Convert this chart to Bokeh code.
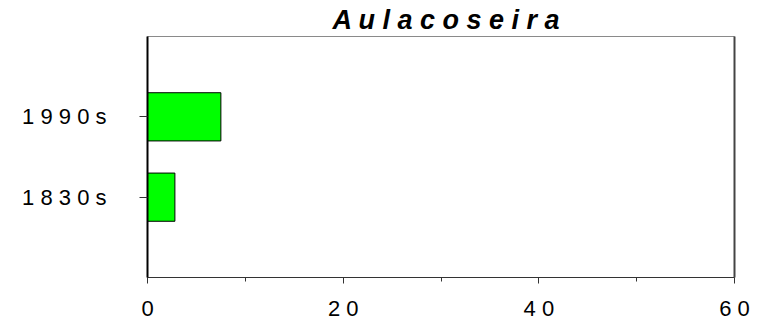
from bokeh.plotting import figure
from bokeh.models import FactorRange, Range1d, FixedTicker, LinearAxis, Title
from bokeh.embed import file_html
from bokeh.resources import INLINE

# Data
decades = ["1830s", "1990s"]
decade_labels = ["1 8 3 0 s", "1 9 9 0 s"]
abundance = [2.8, 7.5]
x_ticks = [0, 20, 40, 60]
x_minor = [10, 30, 50]
x_tick_labels = ["0", "2 0", "4 0", "6 0"]
title_text = "A u l a c o s e i r a"

FONT = "Liberation Sans"

p = figure(
    width=757, height=328,
    y_range=FactorRange(*decade_labels, range_padding=0.5),
    x_range=Range1d(0, 60),
    output_backend="svg", toolbar_location=None,
    min_border_left=147, min_border_right=23,
    min_border_top=36, min_border_bottom=51,
    background_fill_color="white", border_fill_color="white",
)
p.title = Title(text=title_text, align="left", offset=185, standoff=3,
                text_font=FONT, text_font_size="27px",
                text_font_style="bold italic", text_color="black")

p.hbar(y=decade_labels, right=abundance, left=0, height=0.6,
       fill_color="#00ff00", line_color="#000000", line_width=1)

p.grid.visible = False
p.outline_line_color = "#8a8a8a"
p.outline_line_width = 1

# bottom axis
xa = p.xaxis[0]
xa.ticker = FixedTicker(ticks=x_ticks, minor_ticks=x_minor)
xa.major_label_overrides = {t: s for t, s in zip(x_ticks, x_tick_labels)}
xa.axis_line_color = "#333333"
xa.major_tick_line_color = "#333333"
xa.minor_tick_line_color = "#333333"
xa.major_tick_in = 0
xa.major_tick_out = 6
xa.minor_tick_in = 0
xa.minor_tick_out = 4
xa.major_label_standoff = 12
xa.major_label_text_font = FONT
xa.major_label_text_font_size = "22px"
xa.major_label_text_color = "black"

# left axis
ya = p.yaxis[0]
ya.axis_line_color = "black"
ya.axis_line_width = 2
ya.major_tick_line_color = "#333333"
ya.major_tick_in = 0
ya.major_tick_out = 8
ya.minor_tick_line_color = None
ya.major_label_standoff = 33
ya.major_label_text_font = FONT
ya.major_label_text_font_size = "22px"
ya.major_label_text_color = "black"

# right frame edge: a bare line with no ticks
ra = LinearAxis(ticker=FixedTicker(ticks=[]),
                axis_line_color="#444444", axis_line_width=2,
                major_tick_line_color=None, minor_tick_line_color=None)
p.add_layout(ra, "right")

open("out.html", "w").write(file_html(p, INLINE))
